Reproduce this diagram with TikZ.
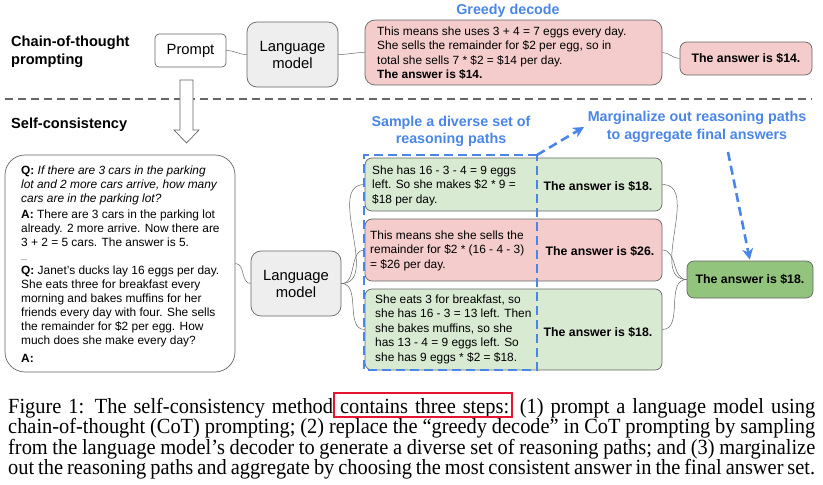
\documentclass[tikz,border=0pt]{standalone}
\usepackage{fontspec}
\setmainfont{Liberation Sans}
\newfontfamily\capfont{Liberation Serif}
\usepackage{graphicx}
\usepackage{tikz}
\usetikzlibrary{arrows.meta, calc}
\definecolor{gblue}{RGB}{74,134,232}
\definecolor{lmgray}{RGB}{238,238,238}
\definecolor{redfill}{RGB}{244,204,204}
\definecolor{greenfill}{RGB}{217,234,211}
\definecolor{finalgreen}{RGB}{147,196,125}
\definecolor{edgegray}{RGB}{102,102,102}
\definecolor{capred}{RGB}{230,20,50}

\begin{document}
\begin{tikzpicture}[x=1pt, y=-1pt,
  box/.style={draw=edgegray, line width=0.7pt, rounded corners=7pt, inner sep=0pt},
  txt/.style={inner sep=0pt, align=left, font=\fontsize{11.9}{14.5}\selectfont},
  ans/.style={inner sep=0pt, font=\fontsize{12.3}{14.5}\selectfont\bfseries},
  lm/.style={inner sep=0pt, align=center, font=\fontsize{14.8}{17}\selectfont},
  head/.style={inner sep=0pt, align=left, anchor=west, font=\fontsize{14.6}{18}\selectfont\bfseries},
  bluetxt/.style={inner sep=0pt, align=center, text=gblue, font=\fontsize{14.3}{17.5}\selectfont\bfseries},
  link/.style={draw=edgegray, line width=0.5pt},
  bluedash/.style={draw=gblue, line width=2.6pt, dash pattern=on 9pt off 5pt}]
  \useasboundingbox (0,0) rectangle (823,485);

  \node [head] (cot) at (11,52) {Chain-of-thought\\prompting};
  \node [head] (sc) at (11,125) {Self-consistency};

  \node [box, rounded corners=4pt, minimum width=71pt, minimum height=33pt, font=\fontsize{14.8}{17}\selectfont] (prompt) at (190.5,50.5) {Prompt};
  \node [box, fill=lmgray, rounded corners=10pt, minimum width=91pt, minimum height=65pt, lm] (lmtop) at (292.5,54.5) {Language\\model};
  \node [box, fill=redfill, rounded corners=10pt, minimum width=297pt, minimum height=65pt] (greedy) at (513.5,52.5) {};
  \node [txt, anchor=west] (greedytxt) at (377,53) {This means she uses 3 + 4 = 7 eggs every day.\\She sells the remainder for \$2 per egg, so in\\total she sells 7 * \$2 = \$14 per day.\\\textbf{The answer is \$14.}};
  \node [bluetxt] (greedylbl) at (508,11) {Greedy decode};
  \node [box, fill=redfill, minimum width=132pt, minimum height=33pt, ans] (ans14) at (746,58.5) {The answer is \$14.};

  \draw [link] (prompt.east) to[out=0, in=180] (lmtop.west);
  \draw [link] (lmtop.east) to[out=0, in=180] (greedy.west);
  \draw [link] (greedy.east) to[out=0, in=180] (ans14.west);

  \coordinate (sepL) at (5,99);
  \coordinate (sepR) at (812,99);
  \draw [edgegray, line width=1.4pt, dash pattern=on 8pt off 5pt] (sepL) -- (sepR);

  \draw [edgegray, line width=0.7pt, fill=white] (180,80) -- (193,80) -- (193,130) -- (199,130) -- (186.5,143) -- (174,130) -- (180,130) -- cycle;

  \node [box, rounded corners=20pt, minimum width=230pt, minimum height=217pt] (fewshot) at (120,263.5) {};
  \node [txt, anchor=west, font=\fontsize{11.9}{14}\selectfont] (fewtxt) at (21,264) {\textbf{Q:} \textit{If there are 3 cars in the parking}\\
    \textit{lot and 2 more cars arrive, how many}\\
    \textit{cars are in the parking lot?}\\[2pt]
    \textbf{A:} There are 3 cars in the parking lot\\
    already. 2 more arrive. Now there are\\
    3 + 2 = 5 cars. The answer is 5.\\
    {\fontsize{7}{8}\selectfont ...}\\
    \textbf{Q:} Janet’s ducks lay 16 eggs per day.\\
    She eats three for breakfast every\\
    morning and bakes muffins for her\\
    friends every day with four. She sells\\
    the remainder for \$2 per egg. How\\
    much does she make every day?\\[4pt]
    \textbf{A:}};
  \node [box, fill=lmgray, rounded corners=10pt, minimum width=90pt, minimum height=65pt, lm] (lmbot) at (296,283.5) {Language\\model};
  \draw [link] (fewshot.east) to[out=0, in=180] (lmbot.west);

  \node [box, fill=greenfill, minimum width=297pt, minimum height=53pt] (path1) at (513.5,184.5) {};
  \node [box, fill=redfill, minimum width=297pt, minimum height=62pt] (path2) at (513.5,250) {};
  \node [box, fill=greenfill, minimum width=297pt, minimum height=81pt] (path3) at (513.5,329.5) {};
  \node [txt, anchor=west] (path1txt) at (372,185.5) {She has 16 - 3 - 4 = 9 eggs\\left. So she makes \$2 * 9 =\\\$18 per day.};
  \node [txt, anchor=west] (path2txt) at (370,250.5) {This means she she sells the\\remainder for \$2 * (16 - 4 - 3)\\= \$26 per day.};
  \node [txt, anchor=west] (path3txt) at (375,329) {She eats 3 for breakfast, so\\she has 16 - 3 = 13 left. Then\\she bakes muffins, so she\\has 13 - 4 = 9 eggs left. So\\she has 9 eggs * \$2 = \$18.};
  \node [ans] (ans1) at (598,186) {The answer is \$18.};
  \node [ans] (ans2) at (600,251) {The answer is \$26.};
  \node [ans] (ans3) at (598,332) {The answer is \$18.};
  \node [box, fill=finalgreen, minimum width=126pt, minimum height=37pt, ans] (final) at (750,279.5) {The answer is \$18.};

  \foreach \p in {path1,path2,path3} {
    \draw [link] (lmbot.east) to[out=0, in=180] (\p.west);
    \draw [link] (\p.east) to[out=0, in=180] (final.west);
  }

  \node [bluetxt] (samplelbl) at (451,131.5) {Sample a diverse set of\\reasoning paths};
  \node [bluetxt] (marglbl) at (697,127) {Marginalize out reasoning paths\\to aggregate final answers};
  \coordinate (dashNW) at (364,155);
  \coordinate (dashNE) at (537,155);
  \coordinate (dashSE) at (537,370);
  \coordinate (dashSW) at (364,370);
  \draw [bluedash] (dashNE) -- (dashNW) -- (dashSW) -- (dashSE) -- cycle;
  \coordinate (margtip) at (584,127);
  \coordinate (margfoot) at (728,152);
  \draw [bluedash, -{Stealth[length=11pt, width=11pt]}] (dashNE) -- (margtip);
  \draw [bluedash, -{Stealth[length=11pt, width=11pt]}, shorten >=1pt] (margfoot) -- (final.north);

  \node [inner sep=0pt, anchor=base west] (caption) at (8,413) {\scalebox{1}[1.06]{\parbox[t]{807pt}{\capfont\fontsize{20.4}{19.4}\selectfont
    \makebox[807pt][s]{Figure 1: The self-consistency method contains three steps: (1) prompt a language model using}\\
    \makebox[807pt][s]{chain-of-thought (CoT) prompting; (2) replace the “greedy decode” in CoT prompting by sampling}\\
    \makebox[807pt][s]{from the language model’s decoder to generate a diverse set of reasoning paths; and (3) marginalize}\\
    \makebox[807pt][s]{out the reasoning paths and aggregate by choosing the most consistent answer in the final answer set.}}}};
  \coordinate (hlNW) at (334,393);
  \coordinate (hlSE) at (512,417);
  \draw [capred, line width=1.8pt] (hlNW) rectangle (hlSE);
\end{tikzpicture}
\end{document}
